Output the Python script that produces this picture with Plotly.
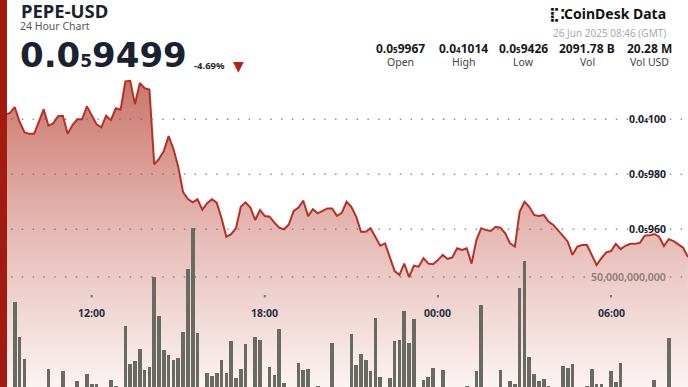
import plotly.graph_objects as go
from datetime import datetime, timedelta

# ---------------- data ----------------
# price in units of 1e-9 USD, one point every 10 minutes from 25 Jun 08:50 to 26 Jun 08:40
price_nano = [
    10012, 10016, 10023, 10044, 9991, 9953, 9947, 9947, 9991, 10036,
    9977, 9985, 10011, 10013, 9947, 9979, 10000, 10000, 10047, 10016,
    9982, 9971, 10013, 9997, 10040, 10035, 10138, 10140, 10055, 10132,
    10113, 10108, 9836, 9856, 9885, 9939, 9892, 9827, 9735, 9710,
    9698, 9709, 9671, 9695, 9709, 9697, 9640, 9573, 9582, 9604,
    9682, 9698, 9679, 9634, 9670, 9648, 9646, 9624, 9606, 9600,
    9618, 9667, 9679, 9704, 9648, 9673, 9658, 9667, 9676, 9676,
    9649, 9660, 9700, 9682, 9646, 9591, 9591, 9604, 9569, 9540,
    9549, 9500, 9448, 9434, 9475, 9426, 9468, 9464, 9495, 9475,
    9473, 9488, 9507, 9492, 9498, 9531, 9525, 9531, 9475, 9561,
    9604, 9597, 9594, 9609, 9606, 9585, 9549, 9537, 9664, 9700,
    9682, 9652, 9648, 9652, 9628, 9616, 9594, 9576, 9555, 9507,
    9537, 9543, 9543, 9507, 9470, 9495, 9516, 9521, 9547, 9528,
    9540, 9547, 9547, 9551, 9577, 9578, 9583, 9573, 9539, 9564,
    9557, 9545, 9533, 9499,
]
# volume in billions of PEPE per 10-minute bucket
volume_bn = [
    2.5, 12.3, 2.0, 39.5, 24.4, 15.1, 2.0, 2.0, 2.5, 2.0,
    10.9, 2.0, 2.5, 10.2, 2.0, 2.5, 5.9, 2.0, 8.9, 4.7,
    4.7, 2.0, 2.5, 6.4, 3.8, 2.0, 29.4, 13.0, 14.4, 19.3,
    10.6, 11.8, 50.1, 33.3, 18.9, 17.0, 14.8, 15.7, 26.6, 53.3,
    70.6, 26.3, 2.5, 9.5, 8.1, 9.4, 14.8, 9.2, 22.8, 7.1,
    10.9, 21.6, 2.5, 24.6, 23.3, 2.0, 11.9, 8.5, 28.0, 5.0,
    2.0, 2.5, 13.7, 10.7, 10.9, 2.0, 4.0, 2.0, 2.5, 22.2,
    2.0, 2.5, 2.0, 25.7, 12.6, 17.4, 14.8, 10.2, 32.5, 7.6,
    2.5, 7.4, 22.9, 23.1, 35.6, 22.2, 32.1, 2.0, 6.4, 7.8,
    11.6, 2.5, 10.5, 2.0, 2.5, 2.0, 2.5, 3.9, 2.5, 10.3,
    38.0, 2.0, 2.5, 3.5, 10.4, 2.5, 6.1, 4.7, 45.2, 56.8,
    15.9, 8.7, 5.8, 6.7, 3.9, 2.0, 2.5, 12.4, 11.3, 13.3,
    2.0, 2.5, 3.7, 11.1, 4.7, 4.8, 2.0, 10.0, 5.7, 13.6,
    2.0, 2.5, 2.0, 2.5, 2.0, 2.5, 6.2, 2.0, 2.5, 24.0,
    2.0, 2.5, 2.0, 2.5,
]

def sub(lead, n, rest, size):
    return lead + '<span style="font-size:%spx">%s</span>' % (size, n) + rest

price_tick_nano = [10000, 9800, 9600]
price_tick_parts = [("0.0", "4", "100"), ("0.0", "5", "980"), ("0.0", "5", "960")]
volume_tick_bn = [50]
volume_tick_text = ["50,000,000,000"]
time_ticks = [datetime(2025, 6, 25, 12), datetime(2025, 6, 25, 18),
              datetime(2025, 6, 26, 0), datetime(2025, 6, 26, 6)]
time_tick_text = ["12:00", "18:00", "00:00", "06:00"]

symbol = "PEPE-USD"
subtitle = "24 Hour Chart"
last_price_parts = ("0.0", "5", "9499")
change_text = "-4.69%"
stat_value_parts = [("0.0", "5", "9967"), ("0.0", "4", "1014"), ("0.0", "5", "9426"),
                    ("2091.78 B", "", ""), ("20.28 M", "", "")]
stat_labels = ["Open", "High", "Low", "Vol", "Vol USD"]
timestamp = "26 Jun 2025 08:46 (GMT)"

start = datetime(2025, 6, 25, 8, 50)
times = [start + timedelta(minutes=10 * i) for i in range(len(price_nano))]
prices = [p * 1e-9 for p in price_nano]
volumes = [v * 1e9 for v in volume_bn]

W, H = 688, 387
FONT = "Noto Sans"
def py(px):  # pixel row -> paper y
    return 1 - px / H
def pxx(px):
    return px / W

price_lo, price_hi = 9026.5e-9, 10433.8e-9
vol_lo, vol_hi = 3.39e9, 167.4e9

fig = go.Figure()
fig.add_trace(go.Scatter(
    x=times, y=prices, mode="lines",
    line=dict(color="rgb(184,48,36)", width=2),
    fill="tozeroy",
    fillgradient=dict(type="vertical", start=price_lo, stop=10140e-9,
                      colorscale=[[0, "rgb(251,243,242)"], [0.513, "rgb(229,185,180)"],
                                  [1, "rgb(202,118,108)"]]),
    hoverinfo="skip", yaxis="y"))
fig.add_trace(go.Bar(
    x=times, y=volumes, yaxis="y2",
    marker=dict(color="rgb(106,106,100)", line=dict(width=0)),
    width=7.6 * 60 * 1000, hoverinfo="skip"))

shapes = []
for v in price_tick_nano:
    shapes.append(dict(type="line", xref="paper", x0=pxx(11), x1=1, yref="y", y0=v * 1e-9, y1=v * 1e-9,
                       line=dict(color="rgba(110,110,110,0.75)", width=1.5, dash="1.5px,9.3px"), layer="above"))
for v in volume_tick_bn:
    shapes.append(dict(type="line", xref="paper", x0=pxx(11), x1=1, yref="y2", y0=v * 1e9, y1=v * 1e9,
                       line=dict(color="rgba(110,110,110,0.75)", width=1.5, dash="1.5px,9.3px"), layer="above"))
for t in time_ticks:
    shapes.append(dict(type="line", xref="x", x0=t, x1=t, yref="paper", y0=py(297.5), y1=py(295),
                       line=dict(color="rgb(120,120,120)", width=2), layer="above"))
shapes.append(dict(type="rect", xref="paper", x0=0, x1=pxx(7), yref="paper", y0=0, y1=1,
                   fillcolor="rgb(163,27,15)", line=dict(width=0), layer="above"))

ann = []
dark = "rgb(26,34,50)"
for v, (a, n, b) in zip(price_tick_nano, price_tick_parts):
    ann.append(dict(xref="paper", x=pxx(668), xanchor="right", yref="y", y=v * 1e-9, yanchor="middle",
                    text="<b>" + sub(a, n, b, 7) + "</b>", showarrow=False,
                    font=dict(family=FONT, size=10.5, color=dark)))
for v, t in zip(volume_tick_bn, volume_tick_text):
    ann.append(dict(xref="paper", x=pxx(668), xanchor="right", yref="y2", y=v * 1e9, yanchor="middle",
                    text=t, showarrow=False, font=dict(family=FONT, size=10.5, color="rgb(140,124,121)", weight=600)))
for t, s in zip(time_ticks, time_tick_text):
    ann.append(dict(xref="x", x=t, xanchor="center", yref="paper", y=py(313), yanchor="middle",
                    text="<b>" + s + "</b>", showarrow=False, font=dict(family=FONT, size=10.5, color="rgb(40,48,64)")))

ann.append(dict(xref="paper", yref="paper", x=pxx(19), y=py(10.5), xanchor="left", yanchor="middle",
                text="<b>" + symbol + "</b>", showarrow=False, font=dict(family=FONT, size=18.5, color=dark)))
ann.append(dict(xref="paper", yref="paper", x=pxx(18), y=py(25.5), xanchor="left", yanchor="middle",
                text=subtitle, showarrow=False, font=dict(family=FONT, size=10.5, color="rgb(85,85,85)")))
ann.append(dict(xref="paper", yref="paper", x=pxx(18), y=py(55), xanchor="left", yanchor="middle",
                text="<b>" + sub(*last_price_parts, 17) + "</b>", showarrow=False,
                font=dict(family="DejaVu Sans", size=34, color=dark)))
ann.append(dict(xref="paper", yref="paper", x=pxx(192), y=py(65.5), xanchor="left", yanchor="middle",
                text="<b>" + change_text + "</b>", showarrow=False, font=dict(family=FONT, size=9.5, color="rgb(40,40,40)")))
ann.append(dict(xref="paper", yref="paper", x=pxx(238), y=py(65.5), xanchor="center", yanchor="middle",
                text="▼", showarrow=False, font=dict(family="DejaVu Sans", size=14, color="rgb(176,36,24)")))

ann.append(dict(xref="paper", yref="paper", x=pxx(668), y=py(14), xanchor="right", yanchor="middle",
                text="<b>CoinDesk Data</b>", showarrow=False, font=dict(family=FONT, size=14, color="rgb(20,20,20)")))
ann.append(dict(xref="paper", yref="paper", x=pxx(557), y=py(14), xanchor="center", yanchor="middle",
                text="<b>⣏⁚</b>", showarrow=False, font=dict(family="DejaVu Sans", size=14, color="rgb(20,20,20)")))
ann.append(dict(xref="paper", yref="paper", x=pxx(668), y=py(32.5), xanchor="right", yanchor="middle",
                text=timestamp, showarrow=False, font=dict(family=FONT, size=10, color="rgb(170,170,170)")))
stat_x = [400.5, 463, 523, 587, 649]
for cx, parts, l in zip(stat_x, stat_value_parts, stat_labels):
    txt = sub(*parts, 8) if parts[1] else parts[0]
    ann.append(dict(xref="paper", yref="paper", x=pxx(cx), y=py(48.3), xanchor="center", yanchor="middle",
                    text="<b>" + txt + "</b>", showarrow=False, font=dict(family=FONT, size=12, color="rgb(25,25,25)")))
    ann.append(dict(xref="paper", yref="paper", x=pxx(cx), y=py(62.3), xanchor="center", yanchor="middle",
                    text=l, showarrow=False, font=dict(family=FONT, size=10.5, color="rgb(68,68,68)")))

fig.update_layout(
    width=W, height=H, margin=dict(l=0, r=0, t=0, b=0),
    paper_bgcolor="white", plot_bgcolor="white", showlegend=False,
    xaxis=dict(range=[datetime(2025, 6, 25, 8, 49, 15), datetime(2025, 6, 26, 8, 40, 5)],
               showgrid=False, zeroline=False, showticklabels=False, showline=False, fixedrange=True),
    yaxis=dict(range=[price_lo, price_hi], showgrid=False, zeroline=False, showticklabels=False, fixedrange=True),
    yaxis2=dict(range=[vol_lo, vol_hi], overlaying="y", showgrid=False, zeroline=False,
                showticklabels=False, fixedrange=True),
    bargap=0, shapes=shapes, annotations=ann,
)
fig.write_html("out.html", config={"displayModeBar": False},
               post_script="document.body.style.margin='0';document.body.style.overflow='hidden';")
